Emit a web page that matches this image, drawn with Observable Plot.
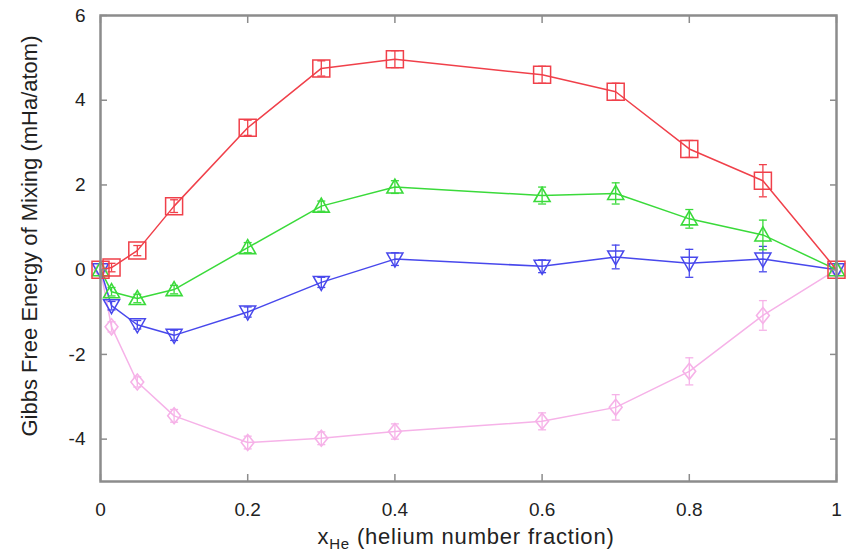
<!DOCTYPE html>
<html>
<head>
<meta charset="utf-8">
<script src="https://cdn.jsdelivr.net/npm/d3@7"></script>
<script src="https://cdn.jsdelivr.net/npm/@observablehq/plot@0.6"></script>
<style>
  html, body { margin: 0; padding: 0; background: #fff; }
  #chart { width: 849px; height: 552px; }
</style>
</head>
<body>
<div id="chart"></div>
<script>
// ---- data ----
const xFraction = [0, 0.015, 0.05, 0.1, 0.2, 0.3, 0.4, 0.6, 0.7, 0.8, 0.9, 1];

const redG   = [0, 0.05, 0.45, 1.5, 3.35, 4.75, 4.97, 4.6, 4.2, 2.85, 2.1, 0];
const redErr = [0, 0.1, 0.12, 0.15, 0.18, 0.18, 0.2, 0.2, 0.2, 0.2, 0.38, 0];

const greenG   = [0, -0.52, -0.68, -0.47, 0.52, 1.5, 1.95, 1.75, 1.8, 1.2, 0.82, 0];
const greenErr = [0, 0.1, 0.1, 0.1, 0.12, 0.12, 0.15, 0.2, 0.25, 0.22, 0.35, 0];

const blueG   = [0, -0.85, -1.3, -1.55, -1.0, -0.3, 0.25, 0.08, 0.3, 0.15, 0.25, 0];
const blueErr = [0, 0.1, 0.1, 0.12, 0.12, 0.12, 0.15, 0.15, 0.28, 0.33, 0.3, 0];

const pinkG   = [0, -1.35, -2.65, -3.45, -4.08, -3.98, -3.82, -3.58, -3.25, -2.4, -1.08, 0];
const pinkErr = [0, 0.12, 0.12, 0.15, 0.15, 0.15, 0.18, 0.2, 0.3, 0.32, 0.35, 0];

const xTicks = [0, 0.2, 0.4, 0.6, 0.8, 1];
const xTickLabels = ["0", "0.2", "0.4", "0.6", "0.8", "1"];
const yTicks = [-4, -2, 0, 2, 4, 6];
const yTickLabels = ["-4", "-2", "0", "2", "4", "6"];
const yLabel = "Gibbs Free Energy of Mixing (mHa/atom)";
const xLabelMain = "x";
const xLabelSub = "He";
const xLabelRest = " (helium number fraction)";

// ---- symbols ----
const symSquare = {draw(c, s) { const r = Math.sqrt(s / Math.PI); c.rect(-r, -r, 2 * r, 2 * r); }};
const symTriUp = {draw(c, s) { const r = Math.sqrt(s / Math.PI); c.moveTo(0, -r); c.lineTo(r, r * 0.75); c.lineTo(-r, r * 0.75); c.closePath(); }};
const symTriDown = {draw(c, s) { const r = Math.sqrt(s / Math.PI); c.moveTo(0, r); c.lineTo(r, -r * 0.75); c.lineTo(-r, -r * 0.75); c.closePath(); }};
const symDiamond = {draw(c, s) { const r = Math.sqrt(s / Math.PI); c.moveTo(0, -r); c.lineTo(r * 0.8, 0); c.lineTo(0, r); c.lineTo(-r * 0.8, 0); c.closePath(); }};
const symCap = {draw(c, s) { const r = Math.sqrt(s / Math.PI); c.moveTo(-r, 0); c.lineTo(r, 0); }};

const series = [
  {name: "pink",  g: pinkG,  e: pinkErr,  color: "#f6b2e8", sym: symDiamond, r: 8, sw: 1.6},
  {name: "blue",  g: blueG,  e: blueErr,  color: "#4848ec", sym: symTriDown, r: 8, sw: 1.5},
  {name: "green", g: greenG, e: greenErr, color: "#3ada3a", sym: symTriUp,   r: 8, sw: 1.6},
  {name: "red",   g: redG,   e: redErr,   color: "#f0404a", sym: symSquare,  r: 8.5, sw: 1.5}
];

const seriesMarks = series.flatMap(s => {
  const rows = xFraction.map((x, i) => ({x, y: s.g[i], e: s.e[i]}));
  const err = rows.filter(d => d.e > 0);
  return [
    Plot.line(rows, {x: "x", y: "y", stroke: s.color, strokeWidth: 1.5}),
    Plot.ruleX(err, {x: "x", y1: d => d.y - d.e, y2: d => d.y + d.e, stroke: s.color, strokeWidth: 1.3}),
    Plot.dot(err, {x: "x", y: d => d.y - d.e, symbol: symCap, r: 4, stroke: s.color, strokeWidth: 1.3}),
    Plot.dot(err, {x: "x", y: d => d.y + d.e, symbol: symCap, r: 4, stroke: s.color, strokeWidth: 1.3}),
    Plot.dot(rows, {x: "x", y: "y", symbol: s.sym, r: s.r, stroke: s.color, fill: "none", strokeWidth: s.sw})
  ];
});

const axisColor = "#8c8c8c";

const chart = Plot.plot({
  width: 849,
  height: 552,
  marginLeft: 100,
  marginRight: 13,
  marginTop: 15,
  marginBottom: 71,
  x: {domain: [0, 1]},
  y: {domain: [-5, 6]},
  style: {fontFamily: "'Liberation Sans', Arial, sans-serif", fontSize: "19px", color: "#222", background: "#fff"},
  marks: [
    ...seriesMarks,
    // inward ticks on all four sides
    Plot.axisX(xTicks, {anchor: "bottom", tickSize: -7, fill: "none", stroke: axisColor, strokeWidth: 1.5, label: null}),
    Plot.axisX(xTicks, {anchor: "top", tickSize: -7, fill: "none", stroke: axisColor, strokeWidth: 1.5, label: null}),
    Plot.axisY(yTicks, {anchor: "left", tickSize: -7, fill: "none", stroke: axisColor, strokeWidth: 1.5, label: null}),
    Plot.axisY(yTicks, {anchor: "right", tickSize: -7, fill: "none", stroke: axisColor, strokeWidth: 1.5, label: null}),
    // tick labels
    Plot.axisX(xTicks, {anchor: "bottom", tickSize: 0, tickPadding: 21, stroke: "none", fill: "#222",
      tickFormat: d => xTickLabels[xTicks.indexOf(d)], label: null, style: {letterSpacing: "1.2px"}}),
    Plot.axisY(yTicks, {anchor: "left", tickSize: 0, tickPadding: 15, stroke: "none", fill: "#222",
      tickFormat: d => yTickLabels[yTicks.indexOf(d)], label: null}),
    Plot.frame({stroke: axisColor, strokeWidth: 2.5})
  ]
});

const svg = d3.select(chart);
// y axis title
svg.append("text")
  .attr("transform", "translate(37,236) rotate(-90)")
  .attr("text-anchor", "middle")
  .attr("font-family", "'Liberation Sans', Arial, sans-serif")
  .attr("font-size", 22)
  .attr("letter-spacing", "0px")
  .attr("fill", "#222")
  .text(yLabel);
// x axis title with subscript
const xt = svg.append("text")
  .attr("x", 466)
  .attr("y", 544)
  .attr("text-anchor", "middle")
  .attr("font-family", "'Liberation Sans', Arial, sans-serif")
  .attr("font-size", 22)
  .attr("letter-spacing", "0.8px")
  .attr("fill", "#222");
xt.append("tspan").text(xLabelMain);
xt.append("tspan").attr("font-size", 15).attr("dy", 5).text(xLabelSub);
xt.append("tspan").attr("dy", -5).text(xLabelRest);

document.getElementById("chart").appendChild(chart);
</script>
</body>
</html>
